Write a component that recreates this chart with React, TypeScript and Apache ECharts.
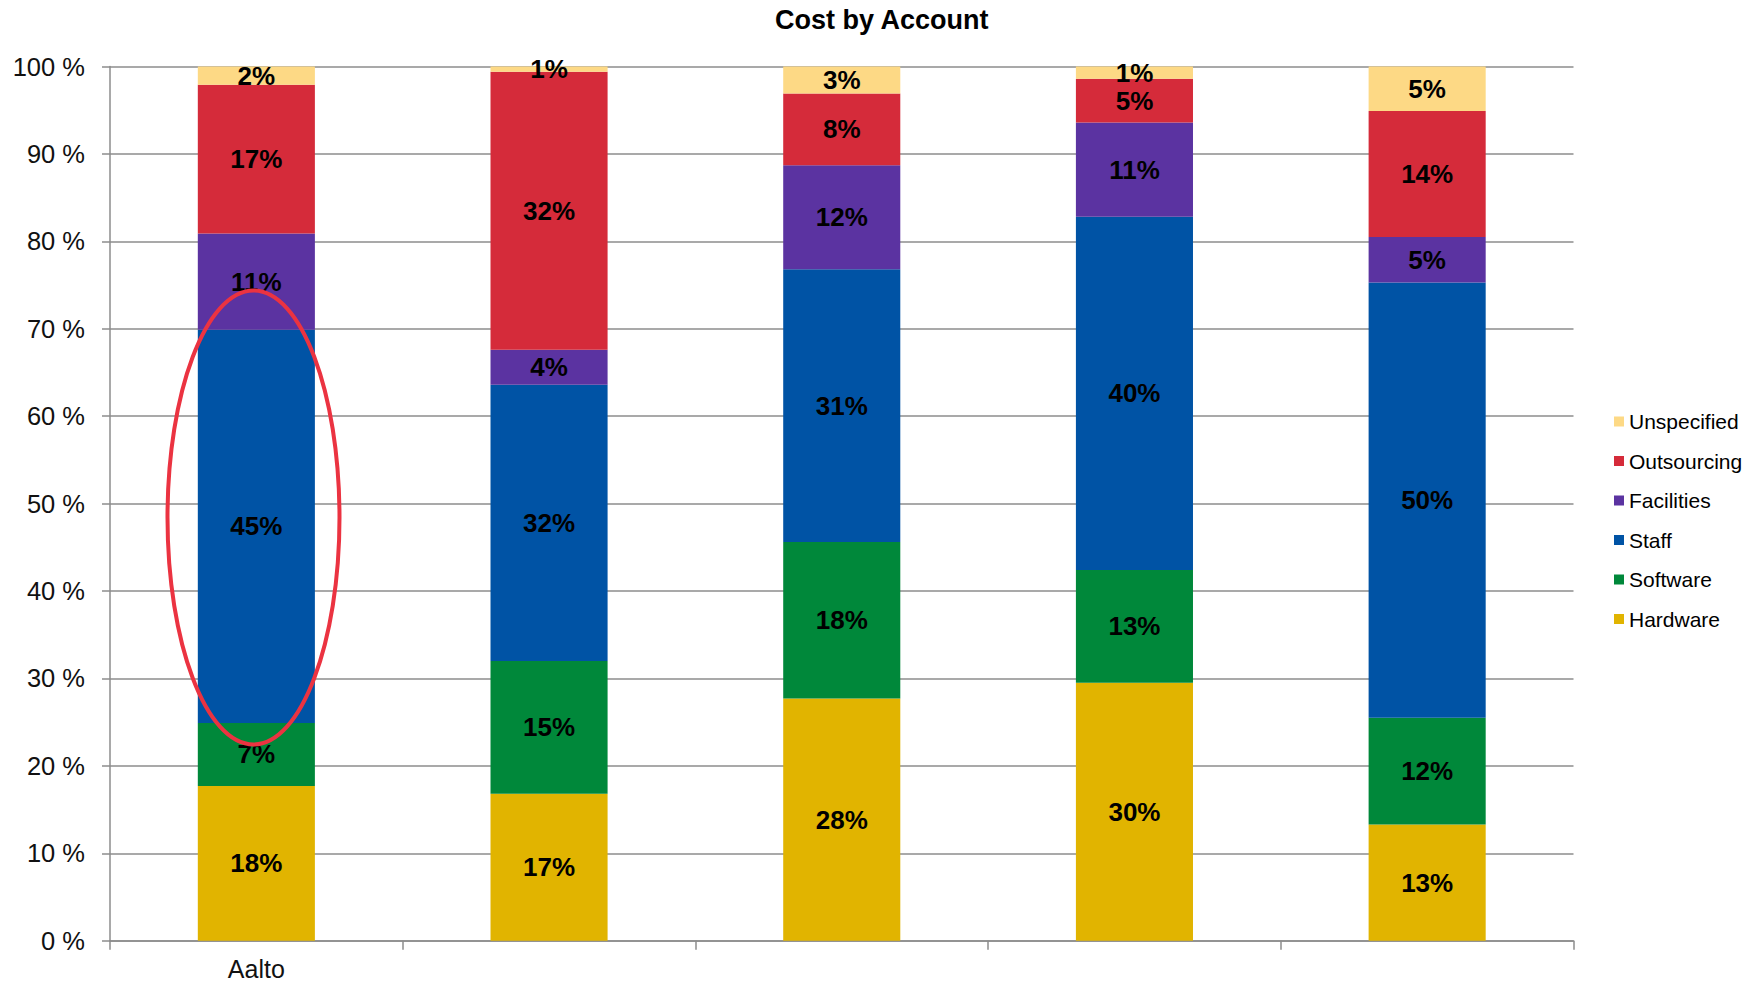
import React, { useEffect, useRef } from "react";
import * as echarts from "echarts";

const categories = ["Aalto", "", "", "", ""];
const seriesNames = ["Hardware", "Software", "Staff", "Facilities", "Outsourcing", "Unspecified"];
const hardware = [17.7, 16.8, 27.7, 29.5, 13.3];
const software = [7.2, 15.2, 17.9, 12.9, 12.2];
const staff = [45.0, 31.6, 31.2, 40.4, 49.8];
const facilities = [11.0, 4.0, 11.9, 10.8, 5.2];
const outsourcing = [17.0, 31.8, 8.2, 5.0, 14.4];
const unspecified = [2.1, 0.6, 3.1, 1.4, 5.1];
const colors = ["#E1B400", "#00883A", "#0053A5", "#5B33A1", "#D52B3A", "#FDD985"];
const yTicks = [0, 10, 20, 30, 40, 50, 60, 70, 80, 90, 100];

export default function App() {
  const ref = useRef<HTMLDivElement>(null);
  useEffect(() => {
    if (!ref.current) return;
    const chart = echarts.init(ref.current, null, { renderer: "svg" });
    const values = [hardware, software, staff, facilities, outsourcing, unspecified];
    const font = "'Liberation Sans', Arial, Helvetica, sans-serif";
    chart.setOption({
      animation: false,
      backgroundColor: "#ffffff",
      textStyle: { fontFamily: font },
      title: {
        text: "Cost by Account",
        left: 775,
        top: 6,
        padding: 0,
        textStyle: { fontFamily: font, fontSize: 27, fontWeight: "bold", color: "#000" },
      },
      legend: {
        orient: "vertical",
        left: 1614,
        top: 411,
        padding: 0,
        itemWidth: 10,
        itemHeight: 10,
        itemGap: 18.5,
        icon: "rect",
        data: seriesNames.slice().reverse(),
        textStyle: { fontFamily: font, fontSize: 21, color: "#000" },
      },
      grid: { left: 110, right: 184.5, top: 66.5, bottom: 44.3, containLabel: false },
      xAxis: {
        type: "category",
        data: categories,
        axisLine: { lineStyle: { color: "#8c8c8c", width: 1.5 } },
        axisTick: { show: true, length: 9, interval: 0, lineStyle: { color: "#8c8c8c", width: 1.5 } },
        axisLabel: { fontFamily: font, fontSize: 25, color: "#111", margin: 16, interval: 0 },
      },
      yAxis: {
        type: "value",
        min: yTicks[0],
        max: yTicks[yTicks.length - 1],
        interval: 10,
        axisLine: { show: true, lineStyle: { color: "#8c8c8c", width: 1.5 } },
        axisTick: { show: true, length: 8, lineStyle: { color: "#8c8c8c", width: 1.5 } },
        splitLine: { show: true, lineStyle: { color: "#8c8c8c", width: 1.5 } },
        axisLabel: { fontFamily: font, fontSize: 25.5, color: "#111", margin: 25, formatter: "{value} %" },
      },
      series: seriesNames.map((name, i) => ({
        name,
        type: "bar",
        stack: "total",
        barWidth: "40%",
        data: values[i],
        itemStyle: { color: colors[i] },
        label: {
          show: true,
          position: "inside",
          formatter: (p: any) => Math.round(p.value) + "%",
          fontFamily: font,
          fontSize: 26,
          fontWeight: "bold",
          color: "#000",
        },
      })),
      color: colors,
      graphic: [
        {
          type: "ellipse",
          z: 100,
          shape: { cx: 253.5, cy: 517.5, rx: 86, ry: 227 },
          style: { fill: "none", stroke: "#EB3341", lineWidth: 4 },
        },
      ],
    });
    return () => chart.dispose();
  }, []);
  return (
    <div
      ref={ref}
      style={{ position: "fixed", left: 0, top: 0, width: 1758, height: 985, background: "#fff" }}
    />
  );
}
